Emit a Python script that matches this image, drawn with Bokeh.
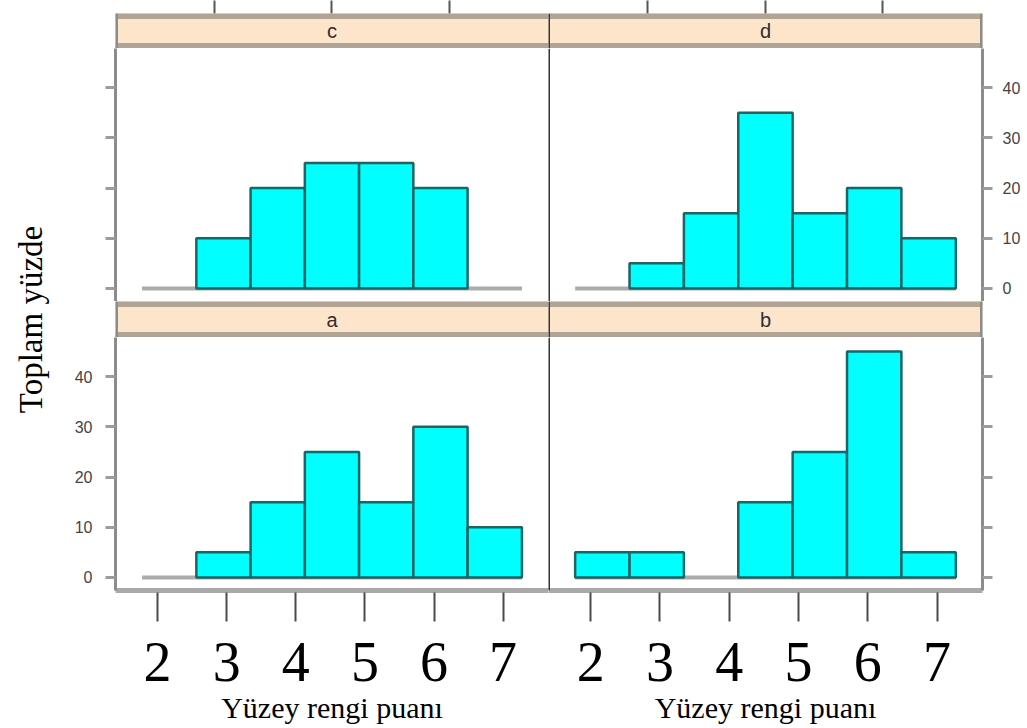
import numpy as np
from bokeh.plotting import figure
from bokeh.models import Range1d, FixedTicker, LinearAxis, Span
from bokeh.layouts import gridplot, row
from bokeh.core.properties import value
from bokeh.embed import file_html
from bokeh.resources import INLINE

# ---------------- data ----------------
bin_edges = [1.776, 2.561, 3.346, 4.131, 4.916, 5.701, 6.486, 7.272]
pct_a = [0, 5, 15, 25, 15, 30, 10]
pct_b = [5, 5, 0, 15, 25, 45, 5]
pct_c = [0, 10, 20, 25, 25, 20, 0]
pct_d = [0, 5, 15, 35, 15, 20, 10]
score_ticks = [2, 3, 4, 5, 6, 7]
score_labels = ["2", "3", "4", "5", "6", "7"]
pct_ticks = [0, 10, 20, 30, 40]
pct_labels = ["0", "10", "20", "30", "40"]
top_ticks = [2.82, 4.52, 6.22]
x_title = "Yüzey rengi puanı"
y_title = "Toplam yüzde"

# ---------------- styles ----------------
STRIP_BG = "#fde5cc"
STRIP_LINE = "#b0a497"
BAR_FILL = "#00ffff"
BAR_LINE = "#1b6565"
BASE_LINE = "#ababab"
BORDER = "#8c8c8c"
DIVIDER = "#353535"
SERIF = "Liberation Serif"
SANS = "Liberation Sans"

span_x = bin_edges[-1] - bin_edges[0]
xr = Range1d(bin_edges[0] - 0.07 * span_x, bin_edges[-1] + 0.07 * span_x)
yr = Range1d(-2.6, 47.8)

YT_W, LB, FL, FR, RB = 55, 60, 433, 434, 42
TOP_B, BOT_B = 13, 136
H_STRIP1, H_PANEL1, H_STRIP2, H_PANEL2 = TOP_B + 35, 253, 36, 253 + BOT_B


def make_fig(width, height, y_range, **borders):
    f = figure(width=width, height=height, x_range=xr, y_range=y_range,
               x_axis_type=None, y_axis_type=None, output_backend="svg",
               toolbar_location=None, min_border=0, **borders)
    f.border_fill_color = "white"
    return f


def strip(letter, is_right, top):
    kw = dict(min_border_left=0 if is_right else LB,
              min_border_right=RB if is_right else 0,
              min_border_top=TOP_B if top else 0)
    sy = Range1d(0, 1)
    s = make_fig(FR + RB if is_right else LB + FL,
                 H_STRIP1 if top else H_STRIP2, sy, **kw)
    s.background_fill_color = STRIP_BG
    s.outline_line_color = None
    for loc in (sy.start, sy.end):
        s.add_layout(Span(location=loc, dimension="width",
                          line_color=STRIP_LINE, line_width=11))
    s.text(x=[(xr.start + xr.end) / 2], y=[0.5], text=[letter],
           text_align="center", text_baseline="middle",
           text_font=value(SANS), text_font_size="20px", text_color="#2e2e2e")
    if top:
        ax = LinearAxis(ticker=FixedTicker(ticks=top_ticks),
                        major_label_overrides={t: "" for t in top_ticks},
                        major_tick_in=0, major_tick_out=TOP_B,
                        minor_tick_in=0, minor_tick_out=0,
                        major_label_text_font_size="10px", major_label_standoff=0,
                        axis_line_color=None, major_tick_line_color="#555555",
                        major_tick_line_width=2)
        s.add_layout(ax, "above")
    if is_right:
        s.add_layout(Span(location=xr.end, dimension="height",
                          line_color=BORDER, line_width=5))
        s.add_layout(Span(location=xr.start, dimension="height",
                          line_color=DIVIDER, line_width=3))
    else:
        s.add_layout(Span(location=xr.start, dimension="height",
                          line_color=BORDER, line_width=5))
    return s


def panel(pct, is_right, bottom, show_labels):
    kw = dict(min_border_left=0 if is_right else LB,
              min_border_right=RB if is_right else 0,
              min_border_bottom=BOT_B if bottom else 0)
    p = make_fig(FR + RB if is_right else LB + FL,
                 H_PANEL2 if bottom else H_PANEL1, yr, **kw)
    p.background_fill_color = "white"
    p.outline_line_color = None
    p.segment(x0=[bin_edges[0]], x1=[bin_edges[-1]], y0=[0], y1=[0],
              line_color=BASE_LINE, line_width=4)
    lefts = [l for l, v in zip(bin_edges[:-1], pct) if v > 0]
    rights = [r for r, v in zip(bin_edges[1:], pct) if v > 0]
    tops = [v for v in pct if v > 0]
    p.quad(left=lefts, right=rights, bottom=0, top=tops,
           fill_color=BAR_FILL, line_color=BAR_LINE, line_width=2.5)

    labels = pct_labels if show_labels else [""] * len(pct_ticks)
    yax = LinearAxis(ticker=FixedTicker(ticks=pct_ticks),
                     major_label_overrides={t: l for t, l in zip(pct_ticks, labels)},
                     major_tick_in=0, major_tick_out=10,
                     minor_tick_in=0, minor_tick_out=0,
                     axis_line_color=BORDER, axis_line_width=3,
                     major_tick_line_color="#9c9c9c", major_tick_line_width=3,
                     major_label_standoff=10 if is_right else 13,
                     major_label_text_font=SANS,
                     major_label_text_font_size="16px",
                     major_label_text_color="#444444")
    p.add_layout(yax, "right" if is_right else "left")

    if bottom:
        xax = LinearAxis(ticker=FixedTicker(ticks=score_ticks),
                         major_label_overrides={t: l for t, l in zip(score_ticks, score_labels)},
                         major_tick_in=-2, major_tick_out=31,
                         minor_tick_in=0, minor_tick_out=0,
                         major_tick_line_color="#4a4a4a", major_tick_line_width=2,
                         axis_line_color="#a9a9a9", axis_line_width=5,
                         major_label_standoff=21,
                         major_label_text_font=SERIF,
                         major_label_text_font_size="56px",
                         major_label_text_color="black",
                         axis_label=x_title, axis_label_standoff=7,
                         axis_label_text_font=SERIF,
                         axis_label_text_font_size="30px",
                         axis_label_text_font_style="normal",
                         axis_label_text_color="black")
        p.add_layout(xax, "below")
    if is_right:
        p.add_layout(Span(location=xr.start, dimension="height",
                          line_color=DIVIDER, line_width=3))
    return p


sc = strip("c", False, True)
sd = strip("d", True, True)
pc = panel(pct_c, False, False, False)
pd_ = panel(pct_d, True, False, True)
sa = strip("a", False, False)
sb = strip("b", True, False)
pa = panel(pct_a, False, True, True)
pb = panel(pct_b, True, True, False)

total_h = H_STRIP1 + H_PANEL1 + H_STRIP2 + H_PANEL2
yt = figure(width=YT_W, height=total_h, x_range=Range1d(0, 1), y_range=Range1d(0, 1),
            x_axis_type=None, y_axis_type=None, output_backend="svg",
            toolbar_location=None, min_border=0, min_border_top=H_STRIP1,
            min_border_bottom=BOT_B)
yt.outline_line_color = None
yt.text(x=[0.55], y=[0.5], text=[y_title], angle=np.pi / 2,
        text_align="center", text_baseline="middle",
        text_font=value(SERIF), text_font_size="33px", text_color="black")

grid = gridplot([[sc, sd], [pc, pd_], [sa, sb], [pa, pb]], toolbar_location=None)
lay = row(yt, grid)

open("out.html", "w").write(file_html(lay, INLINE))
